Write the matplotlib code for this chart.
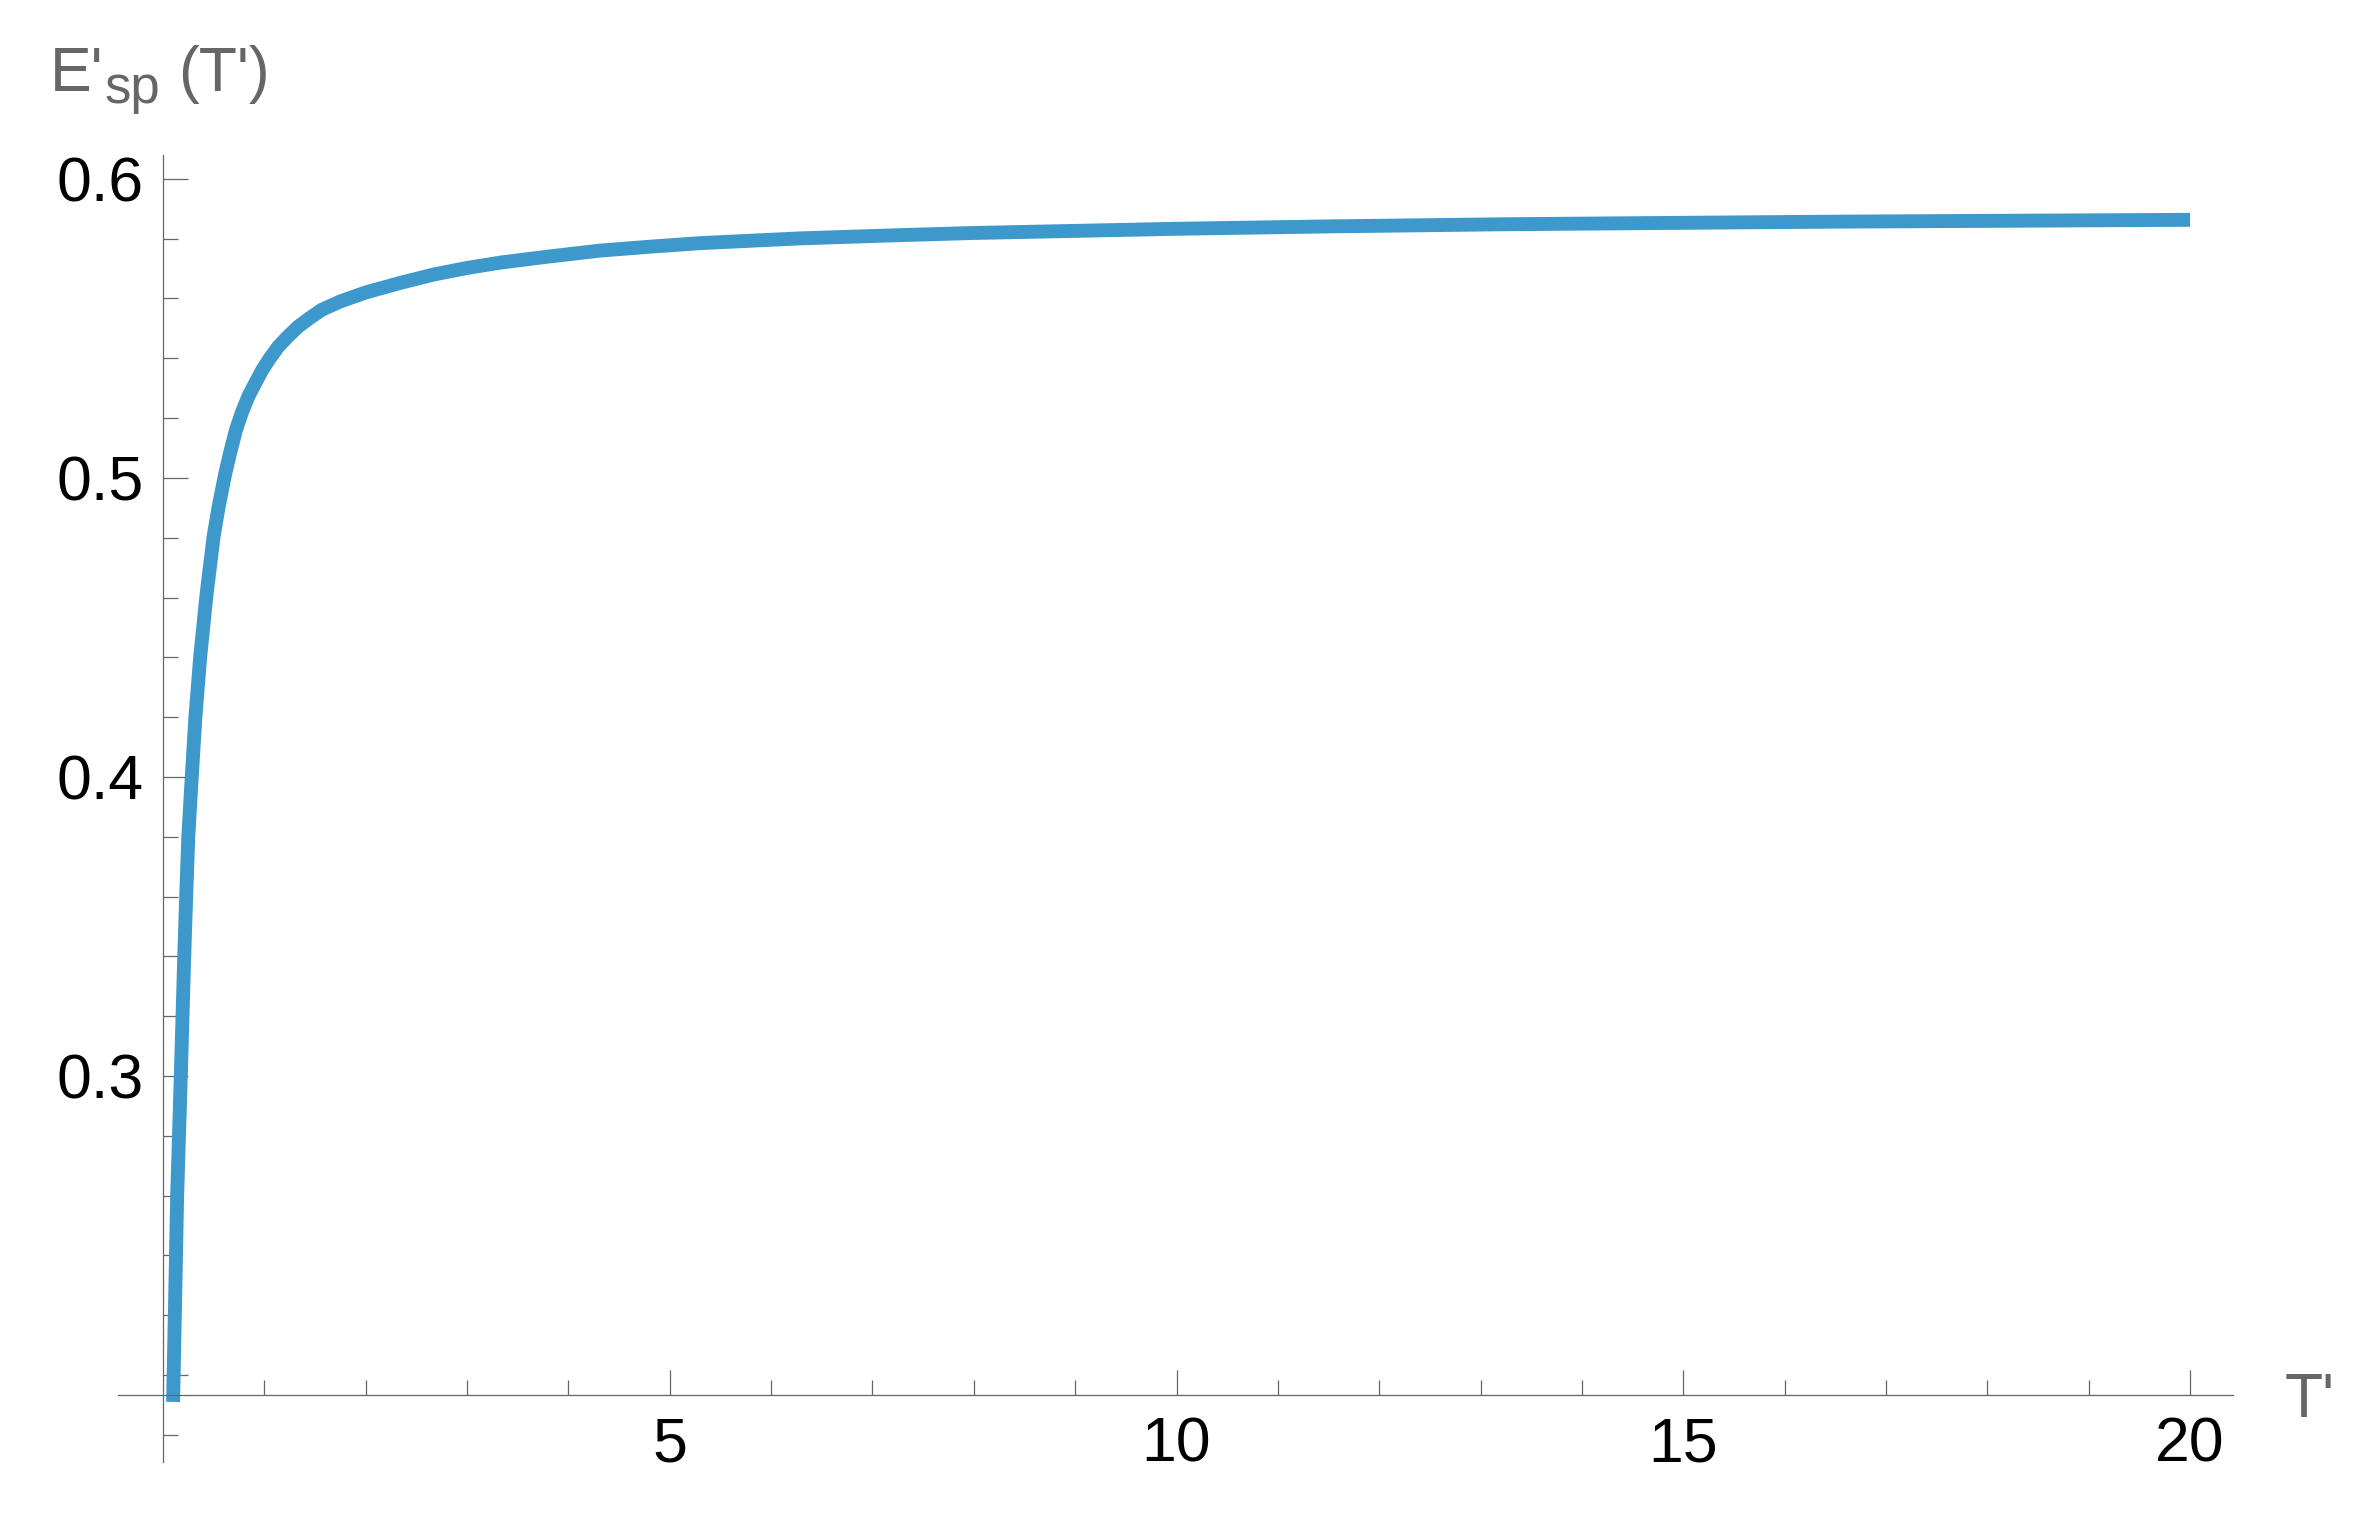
import matplotlib
matplotlib.use("Agg")
import matplotlib.pyplot as plt
from matplotlib.ticker import FixedLocator, FuncFormatter

plt.rcParams['font.family'] = ['Liberation Sans', 'DejaVu Sans']

# values
t_vals = [0.10, 0.117, 0.14, 0.176, 0.21, 0.229, 0.25, 0.284, 0.32, 0.367,
          0.43, 0.50, 0.55, 0.615, 0.66, 0.72, 0.78, 0.842, 0.90, 0.98,
          1.05, 1.138, 1.23, 1.335, 1.45, 1.566, 1.75, 2.0, 2.34, 2.67,
          3.0, 3.33, 3.8, 4.31, 4.8, 5.3, 6.29, 7.2, 8.0, 9.0,
          10.0, 11.5, 13.19, 15.0, 16.56, 18.3, 20.0]
e_vals = [0.191, 0.22, 0.26, 0.30, 0.34, 0.36, 0.38, 0.40, 0.42, 0.44,
          0.461, 0.4805, 0.4905, 0.5015, 0.508, 0.516, 0.522, 0.5272, 0.531, 0.5361,
          0.5398, 0.5439, 0.5472, 0.5506, 0.5535, 0.5562, 0.5590, 0.5620, 0.5652, 0.5680,
          0.5702, 0.5720, 0.5740, 0.5760, 0.5773, 0.5785, 0.5801, 0.5811, 0.5819, 0.5826,
          0.5833, 0.5841, 0.5848, 0.5853, 0.5857, 0.5860, 0.5863]

x_major = [5, 10, 15, 20]
x_minor = list(range(1, 21))
y_major = [0.2, 0.3, 0.4, 0.5, 0.6]
y_minor = [round(0.18 + 0.02 * i, 2) for i in range(22)]

axis_gray = '#666666'
line_blue = '#3d98cb'

fig = plt.figure(figsize=(23.64, 15.13), dpi=100)
ax = fig.add_axes([0.0499, 0.0337, 0.8947, 0.8639])

ax.plot(t_vals, e_vals, color=line_blue, lw=10, solid_capstyle='butt',
        solid_joinstyle='round')

ax.set_xlim(-0.444, 20.424)
ax.set_ylim(0.1709, 0.608)

ax.spines['left'].set_position(('data', 0))
ax.spines['bottom'].set_position(('data', 0.1933))
ax.spines['right'].set_visible(False)
ax.spines['top'].set_visible(False)
for s in ('left', 'bottom'):
    ax.spines[s].set_color(axis_gray)
    ax.spines[s].set_linewidth(0.9)

ax.xaxis.set_major_locator(FixedLocator(x_major))
ax.xaxis.set_minor_locator(FixedLocator(x_minor))
ax.yaxis.set_major_locator(FixedLocator(y_major))
ax.yaxis.set_minor_locator(FixedLocator(y_minor))
ax.xaxis.set_major_formatter(FuncFormatter(lambda v, p: '%d' % v))
ax.yaxis.set_major_formatter(FuncFormatter(lambda v, p: '' if v < 0.25 else '%.1f' % v))

ax.tick_params(axis='both', which='major', direction='in', length=18, width=0.9,
               color=axis_gray, labelsize=45, labelcolor='black')
ax.tick_params(axis='both', which='minor', direction='in', length=11, width=0.9,
               color=axis_gray)
ax.tick_params(axis='y', which='major', pad=14)
ax.tick_params(axis='x', which='major', pad=15)

# axis labels: E'_sp (T') built from pieces so the subscript keeps a readable size
fig.text(50 / 2364, 1 - 91 / 1513, "E'", fontsize=45, color=axis_gray,
         ha='left', va='baseline')
fig.text(104 / 2364, 1 - 103 / 1513, "sp", fontsize=38, color=axis_gray,
         ha='left', va='baseline')
fig.text(178 / 2364, 1 - 91 / 1513, "(T')", fontsize=45, color=axis_gray,
         ha='left', va='baseline')
fig.text(0.9666, 0.0634, "T'", fontsize=45, color=axis_gray, ha='left', va='baseline')

fig.savefig('out.png', dpi=100, facecolor='white')
